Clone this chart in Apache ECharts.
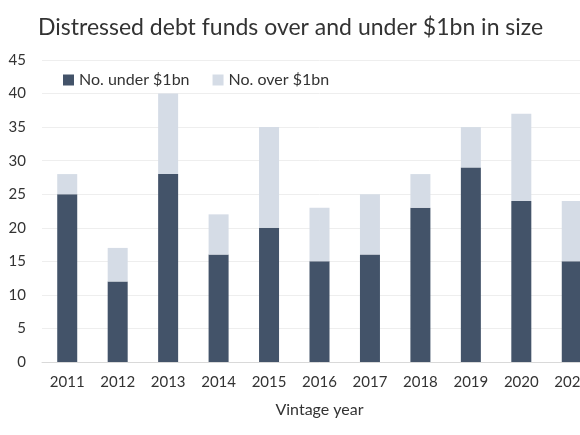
<!DOCTYPE html>
<html>
<head>
<meta charset="utf-8">
<script src="https://cdn.jsdelivr.net/npm/echarts@6/dist/echarts.min.js"></script>
<style>
  html, body { margin: 0; padding: 0; overflow: hidden; background: #fff; }
  #chart { width: 600px; height: 435px; }
</style>
</head>
<body>
<div id="chart"></div>
<script>
var years = ["2011", "2012", "2013", "2014", "2015", "2016", "2017", "2018", "2019", "2020", "2021"];
var underBn = [25, 12, 28, 16, 20, 15, 16, 23, 29, 24, 15];
var overBn = [3, 5, 12, 6, 15, 8, 9, 5, 6, 13, 9];

var font = "Lato, 'Open Sans', sans-serif";
var chart = echarts.init(document.getElementById("chart"));

chart.setOption({
    animation: false,
    textStyle: {fontFamily: font},
    title: {
        text: "Distressed debt funds over and under $1bn in size",
        left: 33, top: 11,
        textStyle: {fontSize: 23, fontWeight: "normal", color: "#333333", fontFamily: font}
    },
    legend: {
        left: 58, top: 67,
        itemWidth: 11, itemHeight: 11, itemGap: 23,
        icon: "rect",
        textStyle: {fontSize: 16, color: "#333333", fontFamily: font},
        data: ["No. under $1bn", "No. over $1bn"]
    },
    grid: {left: 42, right: 3, top: 60, bottom: 73, containLabel: false},
    xAxis: {
        type: "category",
        data: years,
        name: "Vintage year",
        nameLocation: "middle",
        nameGap: 40,
        nameTextStyle: {fontSize: 16, color: "#333333"},
        axisLine: {lineStyle: {color: "#d9d9d9", width: 1}},
        axisTick: {show: false},
        axisLabel: {fontSize: 15, color: "#333333", margin: 13}
    },
    yAxis: {
        type: "value",
        min: 0, max: 45, interval: 5,
        axisLine: {show: false},
        axisTick: {show: false},
        axisLabel: {fontSize: 15, color: "#333333", margin: 16},
        splitLine: {lineStyle: {color: "#eeeeee"}}
    },
    series: [
        {
            name: "No. under $1bn", type: "bar", stack: "funds",
            data: underBn, barWidth: 20,
            itemStyle: {color: "#435369"}
        },
        {
            name: "No. over $1bn", type: "bar", stack: "funds",
            data: overBn, barWidth: 20,
            itemStyle: {color: "#d5dce6"}
        }
    ]
});
</script>
</body>
</html>
